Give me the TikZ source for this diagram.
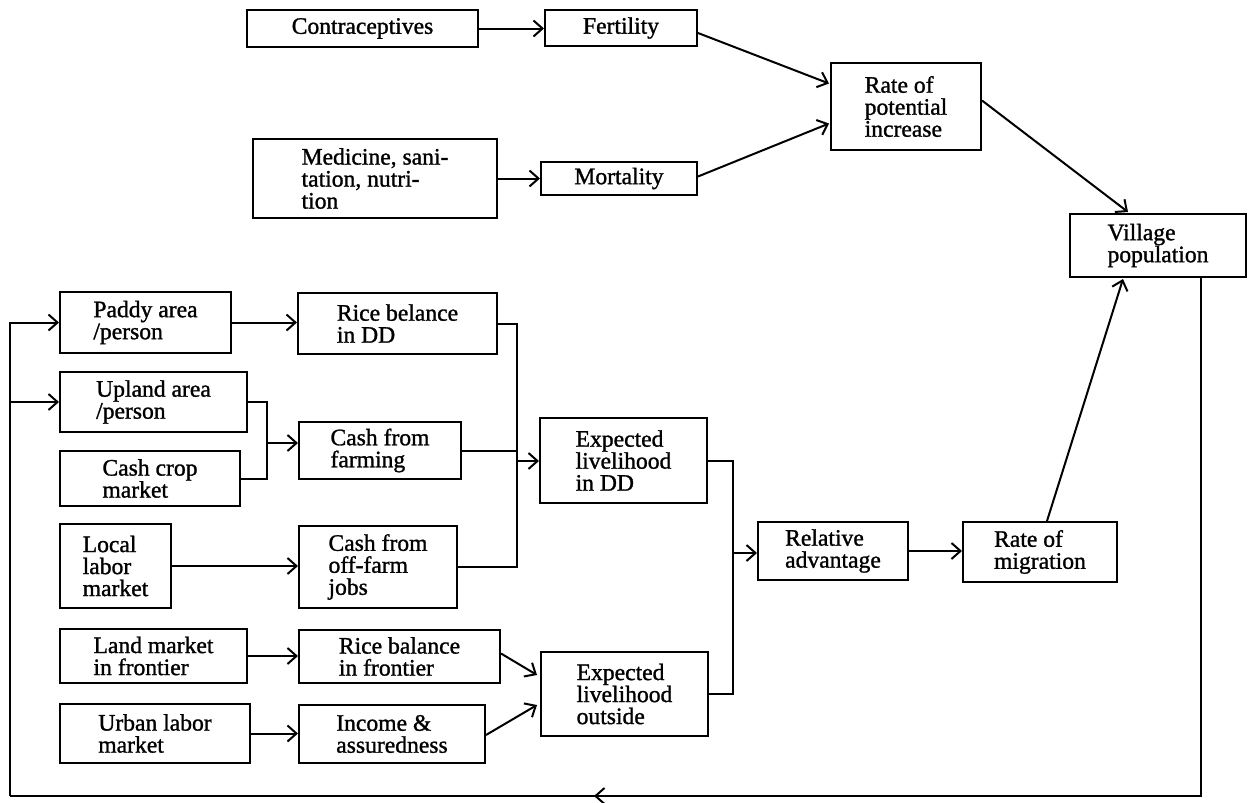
\documentclass[tikz,border=0pt]{standalone}
\usepackage{fontspec}
\setmainfont{Liberation Serif}[BoldFont=Liberation Serif,BoldFeatures={FakeBold=1.2}]
\usetikzlibrary{arrows.meta,calc}
\newcommand\mybox[6]{\node[box,minimum width={(#4-#2)*0.5pt},minimum height={(#5-#3)*0.5pt}] (#1) at ({(#2+#4)/2},{(#3+#5)/2}) {#6};}
\begin{document}
\begin{tikzpicture}[x=0.5pt,y=-0.5pt,
  box/.style={draw,line width=1pt,align=left,inner sep=0pt,font=\fontsize{11.8}{11}\selectfont\bfseries},
  arr/.style={-{Straight Barb[length=4.5pt,width=8pt,line width=1pt]}},
  ln/.style={line width=1pt,line join=miter}]
\useasboundingbox (0,0) rectangle (1250,803);
% boxes
\mybox{contra}{247}{10}{478}{47}{Contraceptives}
\mybox{fert}{545}{10}{697}{46}{Fertility}
\mybox{ratepot}{831}{63}{981}{150}{Rate of\\potential\\increase}
\mybox{medic}{253}{139}{497}{218}{Medicine, sani-\\tation, nutri-\\tion}
\mybox{mort}{541}{162}{697}{195}{Mortality}
\mybox{village}{1070}{214}{1246}{277}{Village\\population}
\mybox{paddy}{60}{292}{231}{353}{Paddy area\\/person}
\mybox{riceDD}{298}{293}{497}{354}{Rice belance\\in DD}
\mybox{upland}{60}{372}{247}{432}{Upland area\\/person}
\mybox{cashcrop}{60}{451}{240}{506}{Cash crop\\market}
\mybox{cashfarm}{299}{422}{461}{479}{Cash from\\farming}
\mybox{expDD}{540}{418}{707}{503}{Expected\\livelihood\\in DD}
\mybox{local}{60}{524}{171}{608}{Local\\labor\\market}
\mybox{offfarm}{299}{526}{457}{608}{Cash from\\off-farm\\jobs}
\mybox{relAdv}{758}{522}{908}{580}{Relative\\advantage}
\mybox{ratemig}{963}{522}{1117}{582}{Rate of\\migration}
\mybox{landmkt}{60}{629}{247}{683}{Land market\\in frontier}
\mybox{ricefr}{299}{630}{500}{683}{Rice balance\\in frontier}
\mybox{expout}{541}{652}{708}{736}{Expected\\livelihood\\outside}
\mybox{urban}{60}{704}{250}{763}{Urban labor\\market}
\mybox{income}{299}{705}{485}{763}{Income \&\\assuredness}
% top part
\draw[ln,arr] (contra.east) -- (contra.east -| fert.west);
\draw[ln,arr] ($(fert.east)+(0,5)$) -- ($(ratepot.west)+(-1,-23)$);
\draw[ln,arr] (medic.east) -- (medic.east -| mort.west);
\draw[ln,arr] ($(mort.east)+(0,-2)$) -- ($(ratepot.west)+(-1,17)$);
\draw[ln,arr] ($(ratepot.east)+(0,-6)$) -- ($(village.north)+(-30,-1)$);
\draw[ln,arr] ($(ratemig.north)+(7,0)$) -- ($(village.south)+(-35,1)$);
% left column
\draw[ln,arr] (paddy.east) -- (paddy.east -| riceDD.west);
\coordinate (colB) at (267,443);
\draw[ln] (upland.east) -| (colB);
\draw[ln] (cashcrop.east) -| (colB);
\draw[ln,arr] (colB) -- (colB -| cashfarm.west);
\draw[ln,arr] (local.east) -- (local.east -| offfarm.west);
\draw[ln,arr] (landmkt.east) -- (landmkt.east -| ricefr.west);
\draw[ln,arr] (urban.east) -- (urban.east -| income.west);
% collector to expected livelihood in DD
\coordinate (colA) at (517,461);
\draw[ln] (riceDD.east) -| (colA);
\draw[ln] (offfarm.east) -| (colA);
\draw[ln] (cashfarm.east) -- (cashfarm.east -| colA);
\draw[ln,arr] (colA) -- (colA -| expDD.west);
% outside
\draw[ln,arr] ($(ricefr.east)+(0,-3)$) -- ($(expout.west)+(-3,-19)$);
\draw[ln,arr] ($(income.east)+(0,1)$) -- ($(expout.west)+(-3,11)$);
% relative advantage
\coordinate (colC) at (733,553);
\draw[ln] (expDD.east) -| (colC);
\draw[ln] (expout.east) -| (colC);
\draw[ln,arr] (colC) -- (colC -| relAdv.west);
\draw[ln,arr] (relAdv.east) -- (relAdv.east -| ratemig.west);
% feedback loop
\coordinate (fbR) at (1201,796);
\coordinate (fbM) at (594,796);
\coordinate (fbL) at (10,796);
\draw[ln] (village.south -| fbR) -- (fbR) -- (fbL);
\draw[ln,arr] (fbR) -- (fbM);
\draw[ln,arr] (fbL) |- (paddy.west);
\draw[ln,arr] (fbL |- upland.west) -- (upland.west);
\end{tikzpicture}
\end{document}
